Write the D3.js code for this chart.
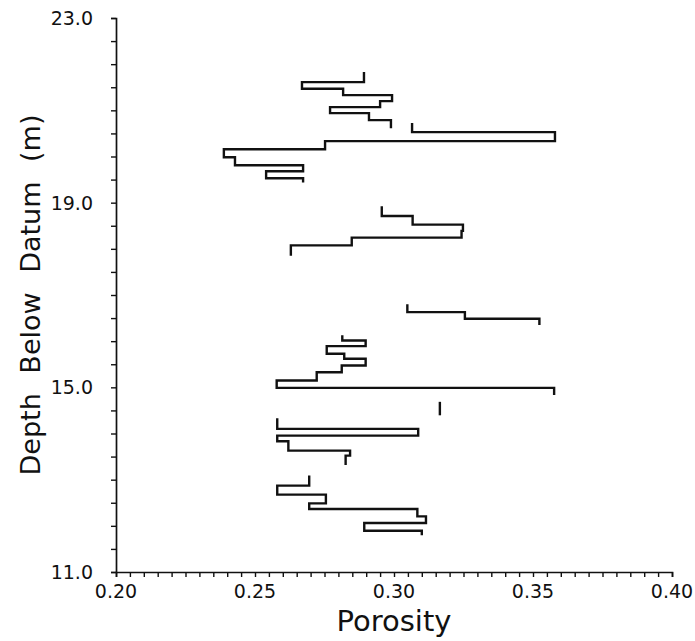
<!DOCTYPE html>
<html>
<head>
<meta charset="utf-8">
<script src="https://cdn.jsdelivr.net/npm/d3@7"></script>
<style>
  html, body { margin: 0; padding: 0; background: #fff; }
  svg { display: block; }
  text { font-family: "DejaVu Sans", "Liberation Sans", sans-serif; fill: #111; }
</style>
</head>
<body>
<svg id="chart" width="695" height="641"></svg>
<script>
// Porosity log, logged in separate runs. Each run: depth boundaries (m, top→base)
// and the porosity held over each interval between consecutive boundaries.
const run1Depth = [21.807, 21.612, 21.466, 21.330, 21.200, 21.069, 20.939, 20.787, 20.636];
const run1Phi   = [0.2892, 0.2669, 0.2817, 0.2993, 0.2950, 0.2770, 0.2910, 0.2989];

const run2Depth = [20.701, 20.527, 20.332, 20.158, 19.985, 19.811, 19.681, 19.529, 19.464];
const run2Phi   = [0.3065, 0.3579, 0.2752, 0.2388, 0.2428, 0.2673, 0.2540, 0.2673];

const run3Depth = [18.894, 18.712, 18.525, 18.390, 18.243, 18.076, 17.874];
const run3Phi   = [0.2956, 0.3067, 0.3248, 0.3243, 0.2848, 0.2629];

const run4Depth = [16.774, 16.629, 16.486, 16.377];
const run4Phi   = [0.3048, 0.3255, 0.3523];

const run5Depth = [16.102, 16.015, 15.892, 15.727, 15.618, 15.473, 15.328, 15.148, 14.989, 14.859];
const run5Phi   = [0.2814, 0.2898, 0.2758, 0.2821, 0.2898, 0.2812, 0.2722, 0.2578, 0.3576];

const run6Depth = [14.660, 14.420];
const run6Phi   = [0.3165];

const run7Depth = [14.302, 14.100, 13.954, 13.831, 13.629, 13.521, 13.341];
const run7Phi   = [0.2580, 0.3087, 0.2580, 0.2620, 0.2842, 0.2826];

const run8Depth = [13.065, 12.870, 12.675, 12.486, 12.364, 12.204, 12.061, 11.894, 11.822];
const run8Phi   = [0.2695, 0.2580, 0.2755, 0.2695, 0.3084, 0.3115, 0.2893, 0.3100];

const runs = [
  [run1Depth, run1Phi], [run2Depth, run2Phi], [run3Depth, run3Phi], [run4Depth, run4Phi],
  [run5Depth, run5Phi], [run6Depth, run6Phi], [run7Depth, run7Phi], [run8Depth, run8Phi]
];

const xTickLabels = ["0.20", "0.25", "0.30", "0.35", "0.40"];
const yTickLabels = ["11.0", "15.0", "19.0", "23.0"];
const xLabel = "Porosity";
const yLabel = "Depth Below Datum (m)";

const svg = d3.select("#chart");

const x = d3.scaleLinear().domain([0.20, 0.40]).range([116, 672]);
const y = d3.scaleLinear().domain([11, 23]).range([572, 18]);

// Minor ticks: every 0.005 in porosity, every 0.5 m in depth
const xMinor = d3.range(0, 41).map(i => 0.20 + i * 0.005);
const yMinor = d3.range(0, 25).map(i => 11 + i * 0.5);

const xAxis = d3.axisBottom(x).tickValues(xMinor).tickSize(5).tickFormat("");
const yAxis = d3.axisLeft(y).tickValues(yMinor).tickSize(5).tickFormat("");

const gx = svg.append("g").attr("transform", `translate(0,${y(11)})`).call(xAxis);
const gy = svg.append("g").attr("transform", `translate(${x(0.20)},0)`).call(yAxis);

[gx, gy].forEach(g => {
  g.select(".domain").attr("stroke", "#111").attr("stroke-width", 1.7);
  g.selectAll(".tick line").attr("stroke", "#111").attr("stroke-width", 1.4);
});

// Tick labels
svg.append("g").selectAll("text")
  .data(xTickLabels)
  .join("text")
  .attr("x", d => x(+d))
  .attr("y", y(11) + 26)
  .attr("text-anchor", "middle")
  .attr("font-size", 19)
  .text(d => d);

svg.append("g").selectAll("text")
  .data(yTickLabels)
  .join("text")
  .attr("x", x(0.20) - 23)
  .attr("y", d => y(+d))
  .attr("dy", "0.36em")
  .attr("text-anchor", "end")
  .attr("font-size", 19)
  .text(d => d);

// Axis titles
svg.append("text")
  .attr("x", (x.range()[0] + x.range()[1]) / 2)
  .attr("y", 631)
  .attr("text-anchor", "middle")
  .attr("font-size", 29)
  .text(xLabel);

svg.append("text")
  .attr("transform", `translate(40,${(y.range()[0] + y.range()[1]) / 2}) rotate(-90)`)
  .attr("text-anchor", "middle")
  .attr("font-size", 27)
  .style("word-spacing", "11px")
  .text(yLabel);

// Step traces: vertical at each porosity value across its depth interval,
// horizontal jumps at the interval boundaries.
const line = d3.line()
  .x(d => x(d[0]))
  .y(d => y(d[1]))
  .curve(d3.curveStepBefore);

runs.forEach(([depth, phi]) => {
  const pts = phi.map((p, i) => [p, depth[i]]);
  pts.push([phi[phi.length - 1], depth[depth.length - 1]]);
  svg.append("path")
    .datum(pts)
    .attr("d", line)
    .attr("fill", "none")
    .attr("stroke", "#111")
    .attr("stroke-width", 2.4)
    .attr("stroke-linejoin", "miter")
    .attr("stroke-linecap", "square");
});
</script>
</body>
</html>
